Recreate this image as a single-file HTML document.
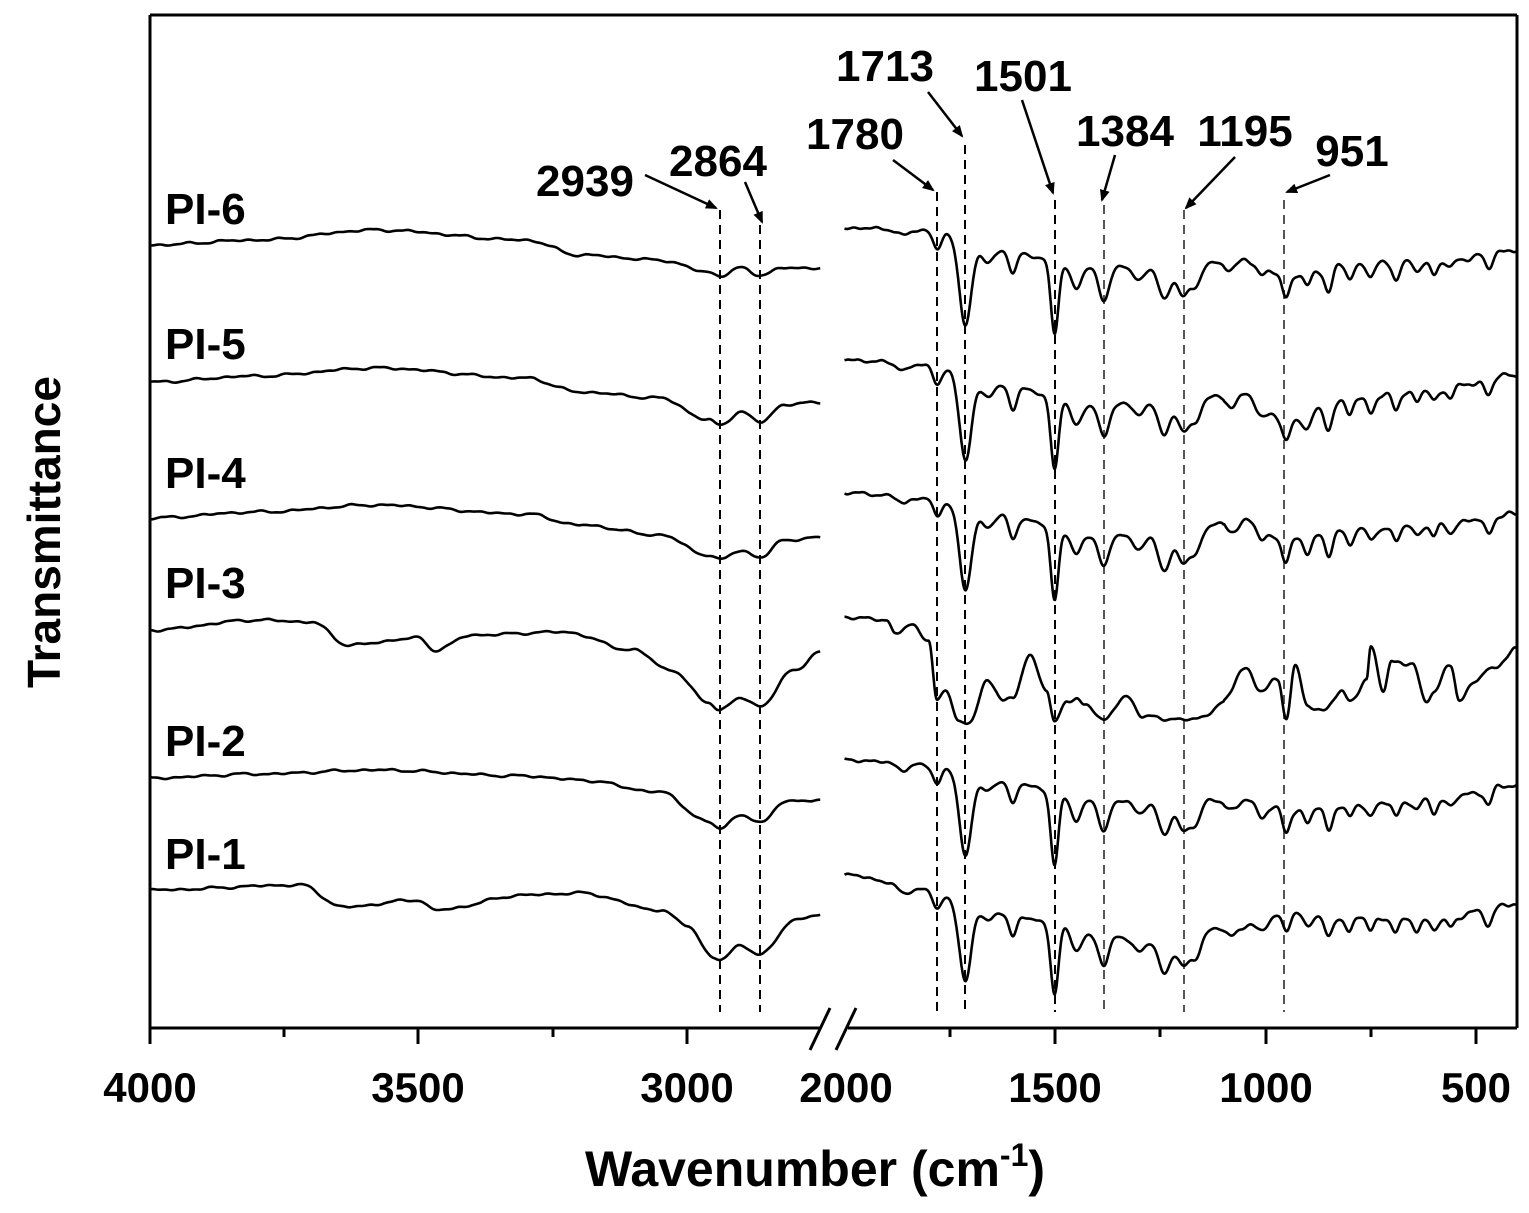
<!DOCTYPE html>
<html><head><meta charset="utf-8"><style>
html,body{margin:0;padding:0;background:#fff;}
svg{display:block;}
text{font-family:"Liberation Sans",Arial,sans-serif;font-weight:bold;fill:#000;}
</style></head><body>
<svg id="s" width="1529" height="1213" viewBox="0 0 1529 1213" xmlns="http://www.w3.org/2000/svg">
<defs><marker id="ah" markerWidth="12" markerHeight="10" refX="10" refY="5" orient="auto" markerUnits="userSpaceOnUse"><path d="M0,0 L12,5 L0,10 z" fill="#000"/></marker></defs>
<g stroke="#000" stroke-width="3" fill="none">
<line x1="150" y1="15" x2="1517" y2="15"/>
<line x1="150" y1="15" x2="150" y2="1028"/>
<line x1="1517" y1="15" x2="1517" y2="1028"/>
<line x1="150" y1="1028" x2="820" y2="1028"/>
<line x1="848" y1="1028" x2="1517" y2="1028"/>
<line x1="810" y1="1050" x2="830" y2="1008"/>
<line x1="836" y1="1050" x2="856" y2="1008"/>
<line x1="150" y1="1028" x2="150" y2="1044"/>
<line x1="284" y1="1028" x2="284" y2="1037"/>
<line x1="418" y1="1028" x2="418" y2="1044"/>
<line x1="553" y1="1028" x2="553" y2="1037"/>
<line x1="687" y1="1028" x2="687" y2="1044"/>
<line x1="950" y1="1028" x2="950" y2="1037"/>
<line x1="1055" y1="1028" x2="1055" y2="1044"/>
<line x1="1160" y1="1028" x2="1160" y2="1037"/>
<line x1="1266" y1="1028" x2="1266" y2="1044"/>
<line x1="1371" y1="1028" x2="1371" y2="1037"/>
<line x1="1476" y1="1028" x2="1476" y2="1044"/>
</g>
<g font-size="42" text-anchor="middle">
<text x="150" y="1102">4000</text><text x="418" y="1102">3500</text><text x="687" y="1102">3000</text>
<text x="846" y="1102">2000</text><text x="1055" y="1102">1500</text><text x="1266" y="1102">1000</text><text x="1476" y="1102">500</text>
</g>
<text x="815" y="1186" font-size="50" text-anchor="middle">Wavenumber (cm<tspan font-size="32" dy="-20">-1</tspan><tspan dy="20">)</tspan></text>
<text transform="translate(60,532) rotate(-90)" font-size="46" text-anchor="middle">Transmittance</text>
<g font-size="44">
<text x="165" y="224">PI-6</text><text x="165" y="359">PI-5</text><text x="165" y="488">PI-4</text>
<text x="165" y="598">PI-3</text><text x="165" y="756">PI-2</text><text x="165" y="869">PI-1</text>
</g>
<g font-size="44" text-anchor="middle">
<text x="585" y="196">2939</text><text x="718" y="176">2864</text><text x="855" y="149">1780</text>
<text x="885" y="81">1713</text><text x="1023" y="91">1501</text><text x="1125" y="146">1384</text>
<text x="1245" y="146">1195</text><text x="1352" y="166">951</text>
</g>
<g stroke="#000" stroke-width="2.5" marker-end="url(#ah)">
<line x1="645" y1="175" x2="716" y2="208"/>
<line x1="745" y1="182" x2="762" y2="222"/>
<line x1="893" y1="160" x2="933" y2="190"/>
<line x1="928" y1="92" x2="962" y2="136"/>
<line x1="1022" y1="100" x2="1053" y2="193"/>
<line x1="1115" y1="155" x2="1102" y2="200"/>
<line x1="1235" y1="157" x2="1186" y2="208"/>
<line x1="1330" y1="175" x2="1287" y2="192"/>
</g>
<g id="dash" stroke-width="2" stroke-dasharray="9,6" fill="none"></g>
<g id="spec" stroke="#000" stroke-width="2.6" fill="none" stroke-linejoin="round"></g>
</svg>
<script>
var NS="http://www.w3.org/2000/svg";
function xl(w){return 150+(4000-w)*0.537;}
function xr(w){return 1055+(1500-w)*0.421;}
var dl=[[720,210,"#000"],[760,225,"#000"],[937,192,"#000"],[965,145,"#000"],[1055,200,"#000"],[1104,205,"#555"],[1184,210,"#555"],[1284,200,"#555"]];
var dg=document.getElementById("dash");
dl.forEach(function(d){var l=document.createElementNS(NS,"line");l.setAttribute("x1",d[0]);l.setAttribute("x2",d[0]);l.setAttribute("y1",d[1]);l.setAttribute("y2",1012);l.setAttribute("stroke",d[2]);dg.appendChild(l);});
function interp(pts,w){for(var i=0;i<pts.length-1;i++){var a=pts[i],b=pts[i+1];if((w<=a[0]&&w>=b[0])){var t=(a[0]-w)/(a[0]-b[0]);t=(1-Math.cos(Math.PI*t))/2;return a[1]+(b[1]-a[1])*t;}}return pts[pts.length-1][1];}
function noise(w,s){return Math.sin(w*0.11+s)*1.2+Math.sin(w*0.073+2*s)*1.0+Math.sin(w*0.23+s*3)*0.6;}
var dips=[[1860,6,14],[1780,18,10],[1713,82,14],[1660,12,14],[1600,22,9],[1501,72,9],[1450,22,12],[1384,32,12],[1300,14,14],[1240,35,14],[1195,30,14],[1165,22,12],[1080,10,14],[1010,12,12],[951,22,9],[900,14,9],[850,24,9],[800,14,8],[750,12,8],[690,15,8],[640,10,8],[600,12,8],[560,8,8],[470,16,9]];
var L=[
[[4000,245],[3800,240],[3580,230],[3300,240],[3200,255],[3050,260],[2960,272],[2939,276],[2900,268],[2864,275],[2820,268],[2752,268]],
[[4000,382],[3800,376],[3580,368],[3300,378],[3200,392],[3050,398],[2960,420],[2939,425],[2900,412],[2864,422],[2820,405],[2752,402]],
[[4000,518],[3800,512],[3580,505],[3300,514],[3200,525],[3050,535],[2960,555],[2939,560],[2900,550],[2864,558],[2820,540],[2752,538]],
[[4000,630],[3800,620],[3700,622],[3630,645],[3500,638],[3470,650],[3400,635],[3230,632],[3100,650],[3030,670],[2960,702],[2939,710],[2900,698],[2864,706],[2800,670],[2752,652]],
[[4000,778],[3800,774],[3580,770],[3300,776],[3200,780],[3050,792],[2960,822],[2939,828],[2900,815],[2864,823],[2820,802],[2752,800]],
[[4000,890],[3720,885],[3640,907],[3500,900],[3470,910],[3300,895],[3200,893],[3050,910],[3000,925],[2950,958],[2939,960],[2900,945],[2864,955],[2800,920],[2752,915]]];
var R=[
[1,[[2000,228],[1800,230],[1650,250],[1400,268],[1250,265],[1100,262],[1050,258],[950,275],[800,265],[600,262],[403,250]]],
[1,[[2000,360],[1800,365],[1650,385],[1400,405],[1250,400],[1050,395],[950,420],[800,400],[600,390],[403,375]]],
[1,[[2000,493],[1800,498],[1650,515],[1400,535],[1250,535],[1050,520],[950,540],[800,530],[600,525],[403,515]]],
[0.08,[[2000,617],[1900,620],[1880,633],[1840,625],[1800,640],[1780,700],[1760,690],[1730,717],[1700,717],[1660,680],[1620,700],[1600,697],[1560,655],[1520,690],[1501,717],[1470,700],[1450,697],[1430,705],[1384,717],[1330,697],[1290,715],[1250,717],[1150,717],[1100,702],[1050,667],[1010,690],[970,680],[951,715],[930,667],[900,705],[870,710],[820,693],[800,700],[760,680],[750,647],[720,690],[700,660],[650,665],[620,700],[600,690],[560,665],[540,700],[500,680],[470,670],[403,650]]],
[1,[[2000,760],[1800,765],[1650,780],[1400,800],[1250,800],[1050,800],[950,810],[800,805],[600,800],[403,785]]],
[0.95,[[2000,875],[1800,890],[1700,905],[1600,915],[1500,925],[1400,935],[1250,940],[1050,925],[950,912],[800,918],[600,920],[403,905]]]];
var sg=document.getElementById("spec");
function add(d){var p=document.createElementNS(NS,"path");p.setAttribute("d",d);sg.appendChild(p);}
L.forEach(function(pts,k){var d="";for(var w=4000;w>=2752;w-=4){var y=interp(pts,w)+noise(w,k)*0.6;d+=(d?"L":"M")+xl(w).toFixed(1)+","+y.toFixed(1);}add(d);});
R.forEach(function(r,k){var d="";for(var w=2000;w>=403;w-=2){var y=interp(r[1],w);dips.forEach(function(q){y+=q[1]*r[0]*Math.exp(-Math.pow((w-q[0])/q[2],2)/2);});y+=noise(w,k+7)*(w<1100?1.3:0.7);d+=(d?"L":"M")+xr(w).toFixed(1)+","+y.toFixed(1);}add(d);});
</script>
</body></html>
